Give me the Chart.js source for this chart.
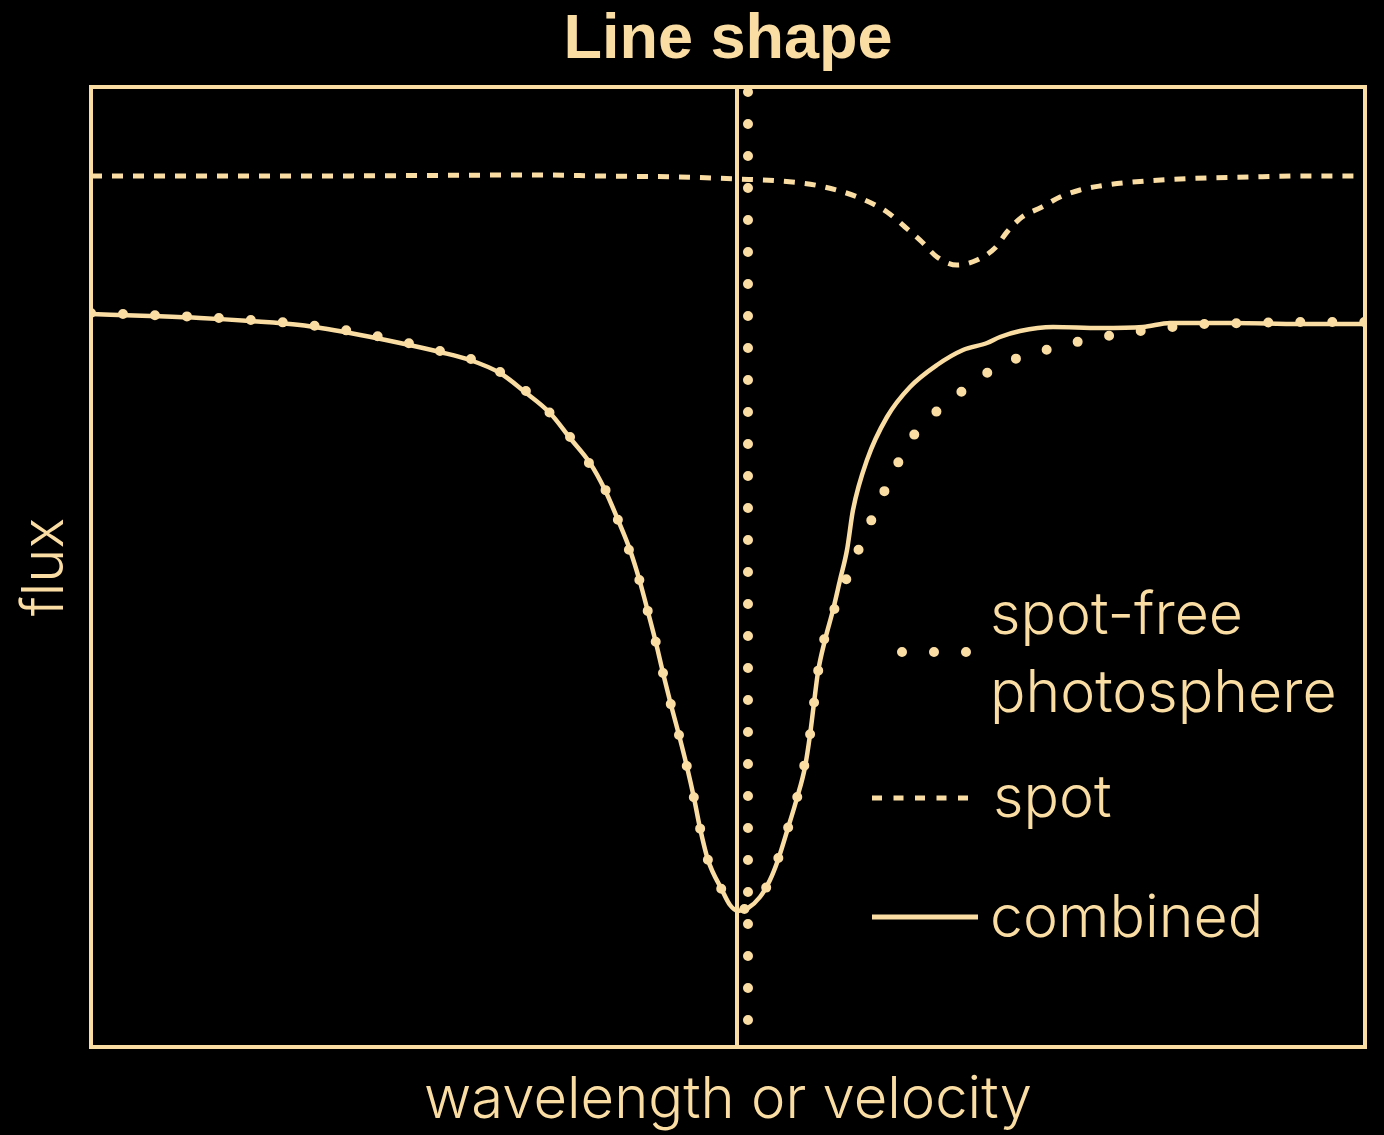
<!DOCTYPE html>
<html>
<head>
<meta charset="utf-8">
<title>Line shape</title>
<script src="https://cdn.jsdelivr.net/npm/chart.js@4"></script>
<style>
  html, body { margin: 0; padding: 0; background: #000; }
  #wrap { width: 1384px; height: 1135px; }
</style>
</head>
<body>
<div id="wrap"><canvas id="lineShape" width="1384" height="1135"></canvas></div>
<script>
// wavelength axis (arbitrary units) and flux (arbitrary units)
const combinedX = [0, 5.9, 10.9, 15.9, 20.9, 25.9, 30.9, 34.9, 37.9, 40.9, 43.4, 45.9, 47.9, 49.9, 51.4, 52.7, 53.9, 54.9, 55.7, 56.5, 57.2, 58.0, 58.8, 59.6, 60.3, 60.9, 61.7, 63.1, 63.9, 64.7, 65.7, 66.9, 67.9, 68.7, 69.7, 70.6, 71.4, 71.9, 72.3, 72.7, 73.4, 74.2, 74.9, 75.6, 76.2, 77.6, 79.6, 81.9, 84.6, 87.2, 89.6, 90.9, 92.9, 96.2, 100.9, 105.2, 107.9, 114.2, 120.9, 127.4];
const combinedY = [73.3, 73.1, 72.9, 72.6, 72.2, 71.4, 70.4, 69.5, 68.7, 67.4, 65.5, 63.4, 60.9, 58.4, 55.7, 52.7, 49.7, 46.5, 43.5, 40.4, 37.4, 34.2, 31.2, 28.0, 24.9, 21.9, 18.7, 15.7, 14.2, 13.6, 13.9, 15.0, 16.7, 18.7, 21.9, 24.9, 28.0, 31.2, 34.4, 37.5, 40.7, 43.7, 46.7, 49.7, 53.7, 58.7, 63.0, 66.0, 68.2, 69.7, 70.4, 71.0, 71.6, 72.0, 71.9, 72.0, 72.4, 72.4, 72.3, 72.3];

const photoX = [0, 5.9, 10.9, 15.9, 20.9, 25.9, 31.7, 34.9, 38.0, 40.9, 43.5, 45.9, 47.9, 49.8, 51.5, 52.7, 53.8, 54.9, 55.7, 56.5, 57.2, 58.0, 58.8, 59.6, 60.3, 60.9, 61.7, 63.1, 64.2, 65.4, 66.6, 67.5, 68.7, 69.7, 70.6, 71.3, 71.9, 72.3, 72.7, 73.3, 74.3, 75.5, 76.7, 78.0, 79.3, 80.7, 82.3, 84.5, 87.0, 89.6, 92.4, 95.5, 98.6, 101.7, 104.9, 108.1, 111.2, 115.9, 120.9, 127.4];
const photoY = [73.4, 73.2, 73.0, 72.7, 72.3, 71.6, 70.4, 69.6, 68.8, 67.5, 65.6, 63.4, 61.0, 58.4, 55.6, 52.7, 49.7, 46.5, 43.5, 40.4, 37.4, 34.2, 31.2, 28.0, 24.9, 21.9, 18.7, 15.7, 14.3, 13.8, 14.5, 15.9, 18.8, 21.9, 24.9, 28.0, 31.2, 34.4, 37.5, 40.7, 43.7, 46.7, 49.6, 52.6, 55.5, 58.4, 61.2, 63.5, 65.5, 67.4, 68.8, 69.7, 70.5, 71.1, 71.6, 72.0, 72.3, 72.4, 72.5, 72.5];

const spotX = [0, 20.9, 44.9, 50.9, 58.9, 64.6, 68.9, 72.9, 76.9, 79.6, 81.4, 83.1, 84.6, 86.6, 88.6, 90.4, 91.6, 93.1, 95.1, 96.9, 98.9, 100.9, 103.2, 108.9, 115.9, 120.9, 127.4];
const spotY = [87.1, 87.1, 87.2, 87.1, 87.0, 86.8, 86.6, 86.1, 84.9, 83.5, 82.0, 80.5, 79.0, 78.2, 78.7, 79.9, 81.5, 83.0, 84.0, 85.0, 85.7, 86.1, 86.4, 86.8, 87.0, 87.1, 87.1];

// rest positions of the line centre
const combinedCentre = 64.6;
const photoCentre = 65.7;
const photoMarkerRange = [95.5, 2.3];

const xRange = [0, 127.4];
const yRange = [0, 96];

const legendLabels = [['spot-free', 'photosphere'], ['spot'], ['combined']];

const cream = '#fadda3';
const lightFont = 'Inter, "Helvetica Neue", "Liberation Sans", sans-serif';

function pts(xs, ys) {
    return xs.map((x, i) => ({ x: x, y: ys[i] }));
}

// frame round the plot area and black background
const framePlugin = {
    id: 'frame',
    beforeDraw(chart) {
        const ctx = chart.ctx;
        ctx.save();
        ctx.fillStyle = '#000';
        ctx.fillRect(0, 0, chart.width, chart.height);
        ctx.restore();
    },
    afterDatasetsDraw(chart) {
        const { ctx, chartArea: a } = chart;
        ctx.save();
        ctx.strokeStyle = cream;
        ctx.lineWidth = 4;
        ctx.strokeRect(a.left, a.top, a.right - a.left, a.bottom - a.top);
        ctx.restore();
    }
};

// legend sits inside the plot, lower right
const legendPlugin = {
    id: 'insideLegend',
    afterDraw(chart) {
        const { ctx, chartArea: a } = chart;
        const x0 = a.right - 493;
        const tx = a.right - 375;
        ctx.save();
        ctx.fillStyle = cream;
        ctx.strokeStyle = cream;
        ctx.font = '300 59px ' + lightFont;
        ctx.textBaseline = 'alphabetic';

        // dotted sample
        ctx.lineCap = 'round';
        ctx.lineWidth = 10;
        ctx.setLineDash([0, 32]);
        ctx.beginPath();
        ctx.moveTo(x0 + 30, a.top + 565);
        ctx.lineTo(x0 + 96, a.top + 565);
        ctx.stroke();
        ctx.fillText(legendLabels[0][0], tx, a.top + 547);
        ctx.fillText(legendLabels[0][1], tx, a.top + 625);

        // dashed sample
        ctx.lineCap = 'butt';
        ctx.lineWidth = 5;
        ctx.setLineDash([10, 11.5]);
        ctx.beginPath();
        ctx.moveTo(x0, a.top + 711);
        ctx.lineTo(x0 + 97, a.top + 711);
        ctx.stroke();
        ctx.fillText(legendLabels[1][0], tx + 3, a.top + 730);

        // solid sample
        ctx.setLineDash([]);
        ctx.lineWidth = 5;
        ctx.beginPath();
        ctx.moveTo(x0, a.top + 830);
        ctx.lineTo(x0 + 106, a.top + 830);
        ctx.stroke();
        ctx.fillText(legendLabels[2][0], tx, a.top + 850);
        ctx.restore();
    }
};

const ctx = document.getElementById('lineShape').getContext('2d');

new Chart(ctx, {
    type: 'scatter',
    data: {
        datasets: [
            {
                label: 'combined',
                data: pts(combinedX, combinedY),
                showLine: true,
                borderColor: cream,
                borderWidth: 4.5,
                pointRadius: 0,
                cubicInterpolationMode: 'monotone'
            },
            {
                label: 'spot-free photosphere',
                data: pts(photoX, photoY),
                showLine: true,
                borderColor: cream,
                borderWidth: 10,
                borderDash: [0, 32],
                borderCapStyle: 'round',
                pointRadius: 0,
                cubicInterpolationMode: 'monotone'
            },
            {
                label: 'spot',
                data: pts(spotX, spotY),
                showLine: true,
                borderColor: cream,
                borderWidth: 5,
                borderDash: [11, 10],
                pointRadius: 0,
                cubicInterpolationMode: 'monotone'
            },
            {
                label: 'combined centre',
                data: [{ x: combinedCentre, y: yRange[0] }, { x: combinedCentre, y: yRange[1] }],
                showLine: true,
                borderColor: cream,
                borderWidth: 4,
                pointRadius: 0
            },
            {
                label: 'photosphere centre',
                data: [{ x: photoCentre, y: photoMarkerRange[0] }, { x: photoCentre, y: photoMarkerRange[1] }],
                showLine: true,
                borderColor: cream,
                borderWidth: 10,
                borderDash: [0, 32],
                borderCapStyle: 'round',
                pointRadius: 0
            }
        ]
    },
    options: {
        responsive: false,
        animation: false,
        events: [],
        layout: { padding: { left: 0, right: 19, top: 0, bottom: 0 } },
        plugins: {
            legend: { display: false },
            tooltip: { enabled: false },
            title: {
                display: true,
                fullSize: false,
                text: 'Line shape',
                color: cream,
                font: { family: '"Liberation Sans", Arial, sans-serif', size: 63, weight: 'bold', lineHeight: 1.2 },
                padding: { top: 3, bottom: 8.4 }
            }
        },
        scales: {
            x: {
                type: 'linear',
                min: xRange[0],
                max: xRange[1],
                grid: { display: false, drawTicks: false },
                border: { display: false },
                ticks: { display: false },
                title: {
                    display: true,
                    text: 'wavelength or velocity',
                    color: cream,
                    font: { family: lightFont, size: 58, weight: 300, lineHeight: 1.2 },
                    padding: { top: 18.4, bottom: 0 }
                }
            },
            y: {
                type: 'linear',
                min: yRange[0],
                max: yRange[1],
                grid: { display: false, drawTicks: false },
                border: { display: false },
                ticks: { display: false },
                title: {
                    display: true,
                    text: 'flux',
                    color: cream,
                    font: { family: lightFont, size: 58, weight: 300, lineHeight: 1.2 },
                    padding: { top: 11, bottom: 10.4 }
                }
            }
        }
    },
    plugins: [framePlugin, legendPlugin]
});
</script>
</body>
</html>
